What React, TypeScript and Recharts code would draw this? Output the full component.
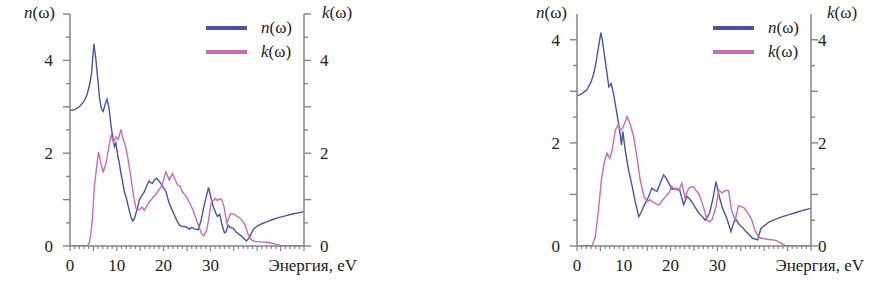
import React from 'react';
import { LineChart, Line, XAxis, YAxis, Legend } from 'recharts';

const FONT =
  "'Liberation Serif', 'Tinos', 'Times New Roman', 'Times', 'Nimbus Roman', 'Nimbus Roman No9 L', 'FreeSerif', 'Noto Serif', 'DejaVu Serif', serif";
const AXIS = '#858585';
const TEXT = '#222';
const N_COLOR = '#4a54a6';
const K_COLOR = '#c76cb9';

type Pt = [number, number];

// left panel: n(omega), energy in eV
const nLeft: Pt[] = [
  [0, 2.92], [1, 2.94], [2, 3.0], [3, 3.12], [3.6, 3.25], [4.2, 3.48], [4.6, 3.72],
  [5.1, 4.36], [5.5, 4.05], [5.9, 3.64], [6.3, 3.2], [6.7, 2.96], [7.1, 2.9],
  [7.5, 3.05], [7.9, 3.16], [8.3, 3.0], [8.8, 2.57], [9.2, 2.3], [9.5, 2.14],
  [9.8, 2.22], [10.2, 1.95], [10.5, 1.8], [10.9, 1.56], [11.3, 1.35], [11.6, 1.17],
  [12.0, 1.05], [12.3, 0.92], [12.7, 0.75], [13.0, 0.63], [13.4, 0.54], [13.8, 0.6],
  [14.1, 0.71], [14.5, 0.85], [14.8, 0.99], [15.3, 1.08], [15.9, 1.17], [16.4, 1.3],
  [16.9, 1.4], [17.3, 1.36], [17.6, 1.35], [18.0, 1.42], [18.5, 1.46], [19.0, 1.4],
  [19.4, 1.35], [20.0, 1.25], [20.5, 1.17], [20.9, 1.02], [21.2, 0.92], [21.7, 0.8],
  [22.3, 0.67], [22.8, 0.55], [23.4, 0.45], [24.0, 0.42], [24.4, 0.42], [25.0, 0.4],
  [25.5, 0.36], [26.0, 0.4], [26.6, 0.37], [27.4, 0.35], [28.0, 0.55], [28.6, 0.85],
  [29.2, 1.1], [29.6, 1.26], [30.1, 1.05], [30.6, 0.85], [31.1, 0.72], [31.5, 0.64],
  [32.0, 0.68], [32.4, 0.49], [33.0, 0.28], [33.3, 0.3], [33.8, 0.45], [34.2, 0.4],
  [34.9, 0.38], [35.5, 0.3], [36.3, 0.24], [37.0, 0.18], [37.7, 0.11], [38.3, 0.18],
  [39.2, 0.36], [40.0, 0.43], [41.0, 0.48], [42.0, 0.52], [43.0, 0.56], [44.5, 0.61],
  [46.0, 0.65], [47.5, 0.69], [49.0, 0.72], [50.0, 0.74],
];

// left panel: k(omega)
const kLeft: Pt[] = [
  [0, 0], [1, 0.01], [2, 0], [3, 0.01], [3.6, 0], [4.1, 0.05], [4.5, 0.3], [4.8, 0.6],
  [5.2, 1.28], [5.7, 1.71], [6.1, 2.03], [6.6, 1.78], [7.1, 1.6], [7.7, 1.78],
  [8.3, 2.14], [8.8, 2.39], [9.3, 2.24], [9.8, 2.35], [10.3, 2.3], [10.9, 2.51],
  [11.3, 2.32], [11.7, 2.21], [12.2, 1.99], [12.9, 1.56], [13.6, 1.06], [14.1, 0.81],
  [14.5, 0.78], [14.9, 0.79], [15.4, 0.84], [15.9, 0.77], [16.4, 0.86], [16.9, 0.95],
  [17.4, 1.0], [17.8, 1.06], [18.3, 1.1], [18.7, 1.17], [19.3, 1.25], [19.8, 1.35],
  [20.2, 1.5], [20.5, 1.6], [20.9, 1.5], [21.2, 1.42], [21.6, 1.5], [21.9, 1.56],
  [22.4, 1.45], [23.0, 1.31], [23.5, 1.29], [24.0, 1.17], [24.9, 1.06], [25.6, 0.92],
  [26.3, 0.77], [26.9, 0.6], [27.4, 0.45], [28.1, 0.27], [28.6, 0.22], [29.2, 0.34],
  [29.6, 0.55], [29.9, 0.77], [30.3, 0.99], [30.7, 0.98], [31.0, 1.03], [31.5, 0.98],
  [32.0, 1.02], [32.4, 1.0], [32.9, 0.85], [33.5, 0.49], [34.0, 0.62], [34.3, 0.7],
  [35.3, 0.67], [36.3, 0.6], [37.0, 0.52], [37.4, 0.45], [38.1, 0.24], [38.8, 0.13],
  [39.5, 0.1], [40.6, 0.09], [42.0, 0.08], [42.8, 0.07], [43.9, 0.04], [45.0, 0.01],
  [47.0, 0], [50.0, 0],
];

// right panel: n(omega)
const nRight: Pt[] = [
  [0, 2.91], [1, 2.95], [2.1, 3.03], [3.0, 3.18], [3.6, 3.35], [4.1, 3.58], [4.5, 3.81],
  [5.1, 4.14], [5.4, 4.0], [5.7, 3.81], [6.3, 3.42], [6.8, 3.09], [7.3, 3.15],
  [7.8, 2.96], [8.5, 2.58], [9.1, 2.25], [9.5, 1.96], [9.8, 2.22], [10.3, 1.86],
  [11.0, 1.48], [11.8, 1.15], [12.5, 0.83], [13.2, 0.57], [13.7, 0.65], [14.2, 0.76],
  [15.3, 0.96], [16.0, 1.12], [16.6, 1.08], [17.1, 1.06], [17.8, 1.22], [18.5, 1.38],
  [19.0, 1.32], [19.6, 1.22], [20.3, 1.1], [21.0, 1.12], [21.4, 1.09], [21.9, 1.1],
  [22.3, 0.96], [22.8, 0.8], [23.5, 0.96], [24.0, 0.92], [24.7, 0.83], [25.4, 0.73],
  [26.1, 0.63], [26.8, 0.57], [27.4, 0.5], [28.3, 0.63], [29.0, 0.9], [29.7, 1.25],
  [30.4, 0.96], [31.1, 0.73], [32.0, 0.54], [32.9, 0.28], [33.3, 0.4], [33.8, 0.54],
  [34.7, 0.41], [35.4, 0.36], [36.1, 0.28], [36.8, 0.22], [37.5, 0.15], [38.6, 0.12],
  [39.3, 0.34], [40.0, 0.39], [41.1, 0.47], [42.5, 0.52], [43.9, 0.57], [45.3, 0.61],
  [46.8, 0.65], [48.3, 0.69], [50.0, 0.73],
];

// right panel: k(omega)
const kRight: Pt[] = [
  [0, 0], [2, 0.01], [3.2, 0], [3.9, 0.18], [4.6, 0.7], [5.2, 1.28], [5.8, 1.61],
  [6.4, 1.8], [7.0, 1.7], [7.5, 1.86], [8.2, 2.25], [8.8, 2.35], [9.3, 2.25],
  [9.7, 2.28], [10.2, 2.38], [10.7, 2.51], [11.4, 2.35], [12.1, 2.12], [12.8, 1.73],
  [13.5, 1.28], [14.3, 0.96], [15.0, 0.86], [15.6, 0.9], [16.2, 0.85], [16.7, 0.83],
  [17.3, 0.8], [17.6, 0.8], [18.5, 0.92], [19.2, 0.99], [19.6, 1.02], [20.2, 1.16],
  [20.7, 1.1], [21.3, 1.12], [21.8, 1.08], [22.4, 1.22], [23.1, 0.93], [23.8, 1.11],
  [24.4, 1.15], [24.9, 1.15], [25.4, 1.08], [26.0, 1.02], [26.5, 0.9], [27.2, 0.7],
  [27.8, 0.5], [28.4, 0.47], [28.9, 0.52], [29.7, 0.76], [30.3, 1.09], [31.0, 1.03],
  [31.8, 1.08], [32.4, 1.07], [33.0, 0.7], [33.8, 0.5], [34.5, 0.78], [35.2, 0.76],
  [35.7, 0.74], [36.8, 0.6], [37.3, 0.52], [37.9, 0.34], [38.5, 0.22], [39.0, 0.16],
  [40.0, 0.14], [40.7, 0.13], [42.5, 0.11], [43.6, 0.05], [44.5, 0.01], [46.0, 0],
  [50.0, 0],
];

const xLabels = [0, 10, 20, 30];
const xTicks = Array.from({ length: 51 }, (_, i) => i);
const yLabels = [0, 2, 4];
const yTicksLeftPanel = [0, 0.5, 1, 1.5, 2, 2.5, 3, 3.5, 4, 4.5, 5];
const yTicksRightPanel = [0, 0.5, 1, 1.5, 2, 2.5, 3, 3.5, 4];

const toRows = (pts: Pt[]) => pts.map(([e, v]) => ({ e, v }));

const textStyle = { fontFamily: FONT, fontSize: 17, fill: TEXT } as const;

const XTick = (props: any) => {
  const { x, y, payload } = props;
  const v = payload.value;
  const major = v % 5 === 0;
  return (
    <g>
      <line x1={x} x2={x} y1={y} y2={y + (major ? 5 : 3)} stroke={AXIS} strokeWidth={1.2} />
      {xLabels.includes(v) && (
        <text x={x} y={y + 25} textAnchor="middle" style={textStyle}>
          {v}
        </text>
      )}
    </g>
  );
};

const makeYTick = (side: 'left' | 'right', gap: number) => (props: any) => {
  const { x, y, payload } = props;
  const v = payload.value;
  const dir = side === 'left' ? -1 : 1;
  const len = Number.isInteger(v) ? 7 : 4;
  return (
    <g>
      <line x1={x} x2={x + dir * len} y1={y} y2={y} stroke={AXIS} strokeWidth={1.4} />
      {yLabels.includes(v) && (
        <text
          x={x + dir * gap}
          y={y}
          dy="0.35em"
          textAnchor={side === 'left' ? 'end' : 'start'}
          style={textStyle}
        >
          {v}
        </text>
      )}
    </g>
  );
};

const Symbol = ({ s }: { s: string }) => (
  <>
    <tspan fontStyle="italic">{s}</tspan>
    <tspan>(ω)</tspan>
  </>
);

const LegendBox = () => (
  <div style={{ fontFamily: FONT, fontSize: 17, color: TEXT, lineHeight: '20px' }}>
    {[
      { s: 'n', c: N_COLOR },
      { s: 'k', c: K_COLOR },
    ].map((it) => (
      <div key={it.s} style={{ display: 'flex', alignItems: 'center', height: 23.5 }}>
        <span style={{ display: 'inline-block', width: 41, height: 4, background: it.c }} />
        <span style={{ marginLeft: 14 }}>
          <i>{it.s}</i>(ω)
        </span>
      </div>
    ))}
  </div>
);

interface PanelProps {
  n: Pt[];
  k: Pt[];
  yMax: number;
  yTicks: number[];
  width: number;
  leftWidth: number;
  rightWidth: number;
  rightGap: number;
  nLabelGap: number;
  kLabelGap: number;
}

function Panel({ n, k, yMax, yTicks, width, leftWidth, rightWidth, rightGap, nLabelGap, kLabelGap }: PanelProps) {
  const plotRight = width - rightWidth;
  return (
    <LineChart width={width} height={294} margin={{ top: 14, right: 0, bottom: 18, left: 0 }}>
      <XAxis
        type="number"
        dataKey="e"
        domain={[0, 50]}
        ticks={xTicks}
        interval={0}
        allowDataOverflow
        tick={XTick}
        tickLine={false}
        tickSize={0}
        tickMargin={0}
        height={30}
        axisLine={{ stroke: AXIS, strokeWidth: 1.5 }}
        label={{
          content: () => (
            <text x={plotRight + 53} y={271} textAnchor="end" style={textStyle}>
              Энергия, eV
            </text>
          ),
        }}
      />
      <YAxis
        yAxisId="left"
        orientation="left"
        type="number"
        width={leftWidth}
        domain={[0, yMax]}
        ticks={yTicks}
        interval={0}
        allowDataOverflow
        tick={makeYTick('left', 17)}
        tickLine={false}
        tickSize={0}
        tickMargin={0}
        axisLine={{ stroke: AXIS, strokeWidth: 1.5 }}
        label={{
          content: () => (
            <text x={leftWidth - nLabelGap} y={18} textAnchor="end" style={textStyle}>
              <Symbol s="n" />
            </text>
          ),
        }}
      />
      <YAxis
        yAxisId="right"
        orientation="right"
        type="number"
        width={rightWidth}
        domain={[0, yMax]}
        ticks={yTicks}
        interval={0}
        allowDataOverflow
        tick={makeYTick('right', rightGap)}
        tickLine={false}
        tickSize={0}
        tickMargin={0}
        axisLine={{ stroke: AXIS, strokeWidth: 1.5 }}
        label={{
          content: () => (
            <text x={plotRight + kLabelGap} y={18} textAnchor="start" style={textStyle}>
              <Symbol s="k" />
            </text>
          ),
        }}
      />
      <Legend
        layout="vertical"
        align="center"
        verticalAlign="middle"
        wrapperStyle={{ left: plotRight - 98, top: 16.5, width: 110 }}
        content={() => <LegendBox />}
      />
      <Line
        yAxisId="left"
        data={toRows(n)}
        dataKey="v"
        name="n"
        type="linear"
        stroke={N_COLOR}
        strokeWidth={1.4}
        dot={false}
        isAnimationActive={false}
      />
      <Line
        yAxisId="right"
        data={toRows(k)}
        dataKey="v"
        name="k"
        type="linear"
        stroke={K_COLOR}
        strokeWidth={1.4}
        dot={false}
        isAnimationActive={false}
      />
    </LineChart>
  );
}

export default function App() {
  return (
    <div style={{ position: 'absolute', left: 0, top: 0, width: 893, height: 294, background: '#fff' }}>
      <div style={{ position: 'absolute', left: 0, top: 0 }}>
        <Panel
          n={nLeft}
          k={kLeft}
          yMax={5}
          yTicks={yTicksLeftPanel}
          width={446}
          leftWidth={70}
          rightWidth={142}
          rightGap={16}
          nLabelGap={15}
          kLabelGap={18}
        />
      </div>
      <div style={{ position: 'absolute', left: 446, top: 0 }}>
        <Panel
          n={nRight}
          k={kRight}
          yMax={4.5}
          yTicks={yTicksRightPanel}
          width={447}
          leftWidth={131}
          rightWidth={82}
          rightGap={7}
          nLabelGap={10}
          kLabelGap={16}
        />
      </div>
    </div>
  );
}
